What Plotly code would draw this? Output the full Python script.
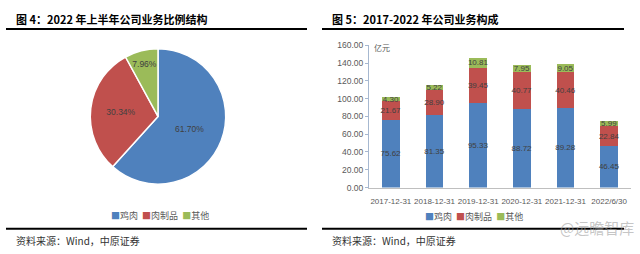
import plotly.graph_objects as go

W, H = 640, 254
def px(x): return x / W
def py(y): return 1 - y / H

# ---- data ----
pie_labels = ["鸡肉", "肉制品", "其他"]
pie_values = [61.70, 30.34, 7.96]

bar_categories = ["2017-12-31", "2018-12-31", "2019-12-31", "2020-12-31", "2021-12-31", "2022/6/30"]
chicken = [75.62, 81.35, 95.33, 88.72, 89.28, 46.45]
meat_products = [21.67, 28.90, 39.45, 40.77, 40.46, 22.84]
others = [4.30, 5.22, 10.81, 7.95, 9.05, 5.99]
series_names = ["鸡肉", "肉制品", "其他"]
y_ticks = [0, 20, 40, 60, 80, 100, 120, 140, 160]

colors = ["#4F81BD", "#C0504D", "#9BBB59"]
txt_color = "#404040"
FONT = "Noto Sans CJK SC"

fig = go.Figure()

# Pie
cx, cy, r = 158, 116, 70.5
fig.add_trace(go.Pie(
    labels=pie_labels, values=pie_values, sort=False, direction="clockwise",
    rotation=0,
    marker=dict(colors=colors, line=dict(color="white", width=1.5)),
    texttemplate="%{value:.2f}%", textposition="inside",
    insidetextorientation="horizontal",
    textfont=dict(size=8.5, color=txt_color, family="Liberation Sans"),
    domain=dict(x=[px(cx - r), px(cx + r)], y=[py(cy + r), py(cy - r)]),
    showlegend=False, hoverinfo="label+percent",
))

# Bars
for name, vals, col in zip(series_names, [chicken, meat_products, others], colors):
    fig.add_trace(go.Bar(
        x=bar_categories, y=vals, name=name, marker=dict(color=col, line=dict(width=0)),
        texttemplate="%{y:.2f}", textposition="inside", insidetextanchor="middle",
        textangle=0,
        textfont=dict(size=8, color=txt_color, family="Liberation Sans"),
        showlegend=False, xaxis="x", yaxis="y",
    ))

fig.update_layout(
    width=W, height=H, margin=dict(l=0, r=0, t=0, b=0),
    paper_bgcolor="white", plot_bgcolor="white",
    barmode="stack", bargap=0.6,
    uniformtext=dict(minsize=8, mode="show"),
    font=dict(family=FONT, color=txt_color),
    xaxis=dict(domain=[px(369), px(631)], type="category", showline=True,
               linecolor="#BFBFBF", linewidth=1, ticks="", showgrid=False,
               tickangle=0, ticklabelstandoff=6,
               tickfont=dict(size=8, color="#595959", family="Liberation Sans"),
               anchor="y"),
    yaxis=dict(domain=[py(190), py(42)], range=[0, 160], tickvals=y_ticks,
               tickformat=".2f", showline=True, linecolor="#A6B8D0", linewidth=1,
               ticks="outside", ticklen=3, tickcolor="#A6B8D0", showgrid=False,
               zeroline=False,
               tickfont=dict(size=8.5, color="#595959", family="Liberation Sans"),
               anchor="x"),
)

shapes = []
# title underlines and bottom rules
for (x0, x1) in [(6, 307), (322, 624)]:
    shapes.append(dict(type="line", xref="paper", yref="paper", x0=px(x0), x1=px(x1),
                       y0=py(25), y1=py(25), line=dict(color="black", width=2)))
    shapes.append(dict(type="line", xref="paper", yref="paper", x0=px(x0), x1=px(x1),
                       y0=py(233), y1=py(233), line=dict(color="black", width=2)))
fig.update_layout(shapes=shapes)

ann = []
ann.append(dict(text="<b>图 4：2022 年上半年公司业务比例结构</b>", x=px(14), y=py(15),
                xref="paper", yref="paper", xanchor="left", yanchor="middle",
                showarrow=False, font=dict(size=11, color="black", family=FONT)))
ann.append(dict(text="<b>图 5：2017-2022 年公司业务构成</b>", x=px(330), y=py(15),
                xref="paper", yref="paper", xanchor="left", yanchor="middle",
                showarrow=False, font=dict(size=11, color="black", family=FONT)))
for x0 in [14, 330]:
    ann.append(dict(text="资料来源：Wind，中原证券", x=px(x0), y=py(245),
                    xref="paper", yref="paper", xanchor="left", yanchor="middle",
                    showarrow=False, font=dict(size=10, color="#333333", family=FONT)))
ann.append(dict(text="亿元", x=px(372), y=py(44), xref="paper", yref="paper",
                xanchor="left", yanchor="middle", showarrow=False,
                font=dict(size=8, color="#595959", family=FONT)))

def legend_text(names):
    return "  ".join(f"<span style='color:{c}'>■</span>{n}" for n, c in zip(names, colors))

ann.append(dict(text=legend_text(pie_labels), x=px(160), y=py(219), xref="paper", yref="paper",
                xanchor="center", yanchor="middle", showarrow=False,
                font=dict(size=9, color="#595959", family=FONT)))
ann.append(dict(text=legend_text(series_names), x=px(474), y=py(220), xref="paper", yref="paper",
                xanchor="center", yanchor="middle", showarrow=False,
                font=dict(size=9, color="#595959", family=FONT)))
ann.append(dict(text="@远瞻智库", x=px(636), y=py(232), xref="paper", yref="paper",
                xanchor="right", yanchor="middle", showarrow=False,
                font=dict(size=15, color="rgba(160,160,160,0.6)", family=FONT)))
fig.update_layout(annotations=ann)

fig.write_html("out.html")
